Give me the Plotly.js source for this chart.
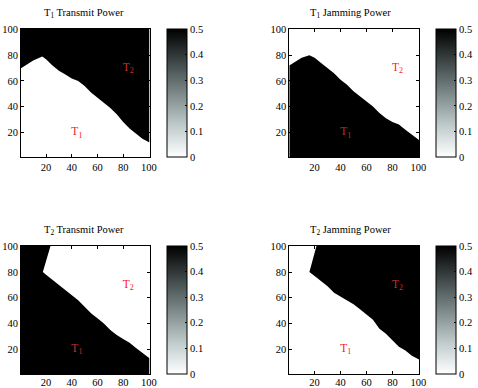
<!DOCTYPE html>
<html>
<head>
<meta charset="utf-8">
<script src="https://cdn.plot.ly/plotly-3.0.1.min.js"></script>
<style>
  body { margin: 0; background: #fff; }
  #chart { width: 478px; height: 388px; }
</style>
</head>
<body>
<div id="chart"></div>
<script>
// values (grid runs over cells 1..100)
const axisTicks = [20, 40, 60, 80, 100];
const cbarTicks = [0, 0.1, 0.2, 0.3, 0.4, 0.5];
const levels = [0, 0.5];
const titles = ['T<sub>1</sub> Transmit Power', 'T<sub>1</sub> Jamming Power',
                'T<sub>2</sub> Transmit Power', 'T<sub>2</sub> Jamming Power'];
const labelText = ['T<sub>1</sub>', 'T<sub>2</sub>'];
const labelX = [44, 84];
const labelY = [20, 70];

// border between the two regions
const t1TxX = [0.5, 5, 10, 17, 20, 25, 30, 35, 40, 45, 50, 55, 60, 65, 70, 75, 80, 85, 90, 95, 100.5];
const t1TxY = [70, 73, 76, 79, 77, 72, 68, 65, 62, 60, 56, 51, 47, 43, 39, 34, 28, 23, 19, 15, 12];

const t1JmX = [0.5, 5, 10, 16, 20, 25, 30, 35, 40, 45, 50, 55, 60, 65, 70, 75, 80, 85, 90, 95, 100.5];
const t1JmY = [72, 75, 78, 80, 78, 74, 70, 66, 61, 57, 52, 48, 44, 40, 35, 31, 28, 26, 22, 18, 14];

const t2TxX = [23.5, 22, 20.5, 19, 17.5, 20, 25, 30, 35, 40, 45, 50, 55, 60, 65, 70, 75, 80, 85, 90, 95, 100.5];
const t2TxY = [100.5, 95, 90, 85, 80, 78, 74, 70, 66, 62, 58, 53, 48, 44, 40, 35, 31, 28, 25, 21, 17, 13];

const t2JmX = [21.5, 20, 19, 17.5, 16, 20, 25, 30, 35, 40, 45, 50, 55, 60, 65, 70, 75, 80, 85, 90, 95, 100.5];
const t2JmY = [100.5, 95, 90, 85, 80, 77, 73, 69, 64, 61, 58, 55, 51, 47, 43, 36, 32, 27, 22, 19, 15, 12];

const lo = 0.5, hi = 100.5;

// reversed "bone" like grey scale
const cscale = [
  [0, 'rgb(255,255,255)'],
  [0.25, 'rgb(190,202,202)'],
  [0.6, 'rgb(98,110,110)'],
  [1, 'rgb(0,0,0)']
];
const dark = 'rgb(0,0,0)';

const W = 478, H = 388;
const colX = [[21 / W, 149.5 / W], [289.3 / W, 419 / W]];
const rowY = [[1 - 157.3 / H, 1 - 29 / H], [1 - 374.3 / H, 1 - 245.7 / H]];
const cbarX = [167.3 / W, 436 / W];
const titleX = [42 / W, 308 / W];
const titleY = [1 - 14 / H, 1 - 230 / H];

const serif = 'Liberation Serif, Times New Roman, serif';

// black region of each panel
const regions = [
  { x: t1TxX.concat([hi, lo]), y: t1TxY.concat([hi, hi]) },
  { x: t1JmX.concat([hi, lo]), y: t1JmY.concat([lo, lo]) },
  { x: t2TxX.concat([hi, lo, lo]), y: t2TxY.concat([lo, lo, hi]) },
  { x: t2JmX.concat([hi]), y: t2JmY.concat([hi]) }
];
// label colour depends on background under it
const labelColors = [
  ['#ff2020', '#c03030'],
  ['#b03030', '#ff2020'],
  ['#c03030', '#ff2020'],
  ['#ff2020', '#c03030']
];

const data = [];
const layout = {
  width: W, height: H,
  margin: { l: 0, r: 0, t: 0, b: 0 },
  paper_bgcolor: 'white',
  plot_bgcolor: 'white',
  showlegend: false,
  annotations: []
};

regions.forEach(function (r, i) {
  const n = i + 1;
  const xa = n === 1 ? 'x' : 'x' + n;
  const ya = n === 1 ? 'y' : 'y' + n;
  const col = i % 2, row = Math.floor(i / 2);

  data.push({
    type: 'scatter', mode: 'lines', x: r.x, y: r.y,
    fill: 'toself', fillcolor: dark, line: { width: 0, color: dark },
    xaxis: xa, yaxis: ya, hoverinfo: 'skip'
  });

  data.push({
    type: 'scatter', mode: 'text', x: labelX, y: labelY, text: labelText,
    textfont: { family: serif, size: 11.5, color: labelColors[i] },
    xaxis: xa, yaxis: ya, hoverinfo: 'skip'
  });

  // carries the colour bar only
  data.push({
    type: 'scatter', mode: 'markers', x: labelX, y: labelY,
    marker: {
      color: levels, colorscale: cscale, cmin: 0, cmax: 0.5, opacity: 0, size: 1,
      showscale: true,
      colorbar: {
        x: cbarX[col], xanchor: 'left', xref: 'paper',
        y: (rowY[row][0] + rowY[row][1]) / 2, yanchor: 'middle',
        thickness: 19.5, lenmode: 'pixels', len: 128.3,
        outlinewidth: 1, outlinecolor: 'black',
        xpad: 0, ypad: 0,
        tickvals: cbarTicks, ticktext: cbarTicks.map(String),
        ticks: 'inside', ticklen: 2, tickcolor: 'black',
        tickfont: { family: serif, size: 10.5, color: 'black' }
      }
    },
    xaxis: xa, yaxis: ya, hoverinfo: 'skip'
  });

  const axBase = {
    range: [lo, hi], tickvals: axisTicks, ticks: 'inside', ticklen: 3,
    tickcolor: 'black', showline: true, linecolor: 'black', linewidth: 1,
    mirror: 'ticks', showgrid: false, zeroline: false, fixedrange: true,
    tickfont: { family: serif, size: 10.5, color: 'black' }
  };
  layout['xaxis' + (n === 1 ? '' : n)] = Object.assign({}, axBase, {
    domain: colX[col], anchor: ya, ticklabelstandoff: row === 1 ? -2 : 0
  });
  layout['yaxis' + (n === 1 ? '' : n)] = Object.assign({}, axBase, {
    domain: rowY[row], anchor: xa
  });

  layout.annotations.push({
    text: titles[i], xref: 'paper', yref: 'paper',
    x: titleX[col], y: titleY[row],
    xanchor: 'left', yanchor: 'middle', showarrow: false,
    font: { family: serif, size: 10.5, color: 'black' }
  });
});

Plotly.newPlot('chart', data, layout, { displayModeBar: false, staticPlot: true });
</script>
</body>
</html>
